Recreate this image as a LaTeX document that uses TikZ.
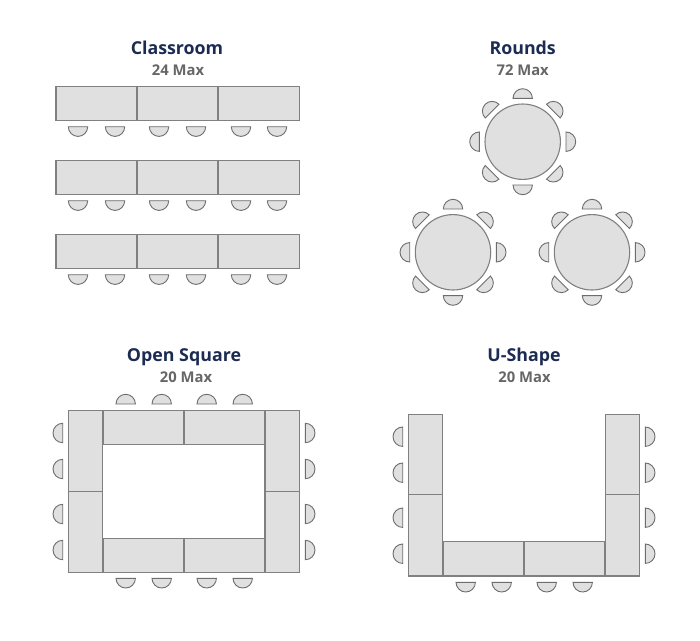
\documentclass[tikz,border=0pt]{standalone}
\usepackage{fontspec}
\setmainfont{Open Sans}
\definecolor{titleblue}{HTML}{1C2B52}
\definecolor{maxgray}{HTML}{666666}
\definecolor{tablefill}{HTML}{E0E0E0}
\definecolor{tableline}{HTML}{808080}
\tikzset{
  roomtitle/.style={anchor=base, font=\fontsize{17.8}{20}\selectfont\bfseries, text=titleblue},
  roommax/.style={anchor=base, font=\fontsize{14.8}{16}\selectfont\bfseries, text=maxgray},
  tablebox/.style={draw=tableline, fill=tablefill, line width=1.1pt},
  chairseat/.style={draw=tableline!85!black, fill=tablefill, line width=0.9pt},
}
% chair: flat side centred at (x,y), bulging towards the given angle
\newcommand{\chair}[3]{\draw[chairseat, shift={(#1,#2)}, rotate=#3] (0,-9.7pt) arc[start angle=-90, end angle=90, radius=9.7pt] -- cycle;}
% round table with eight chairs
\newcommand{\roundtable}[2]{
  \draw[tablebox] (#1,#2) circle[radius=37.7pt];
  \foreach \a in {0,45,...,315} {
    \draw[chairseat, shift={(#1,#2)}, rotate=\a] (43.3pt,-9.7pt) arc[start angle=-90, end angle=90, radius=9.7pt] -- cycle;
  }
}
\begin{document}
\begin{tikzpicture}[x=1pt, y=-1pt]
  \useasboundingbox (0,0) rectangle (700,640);

  % Classroom
  \node[roomtitle] (classroom) at (177,54.6) {Classroom};
  \node[roommax] (classroommax) at (178,75.7) {24 Max};
  \foreach \r in {0,74,148} {
    \foreach \x in {56,137,218} {
      \draw[tablebox] (\x,86.4+\r) rectangle (\x+81.3,120.4+\r);
    }
    \foreach \x in {78,115,159,196,241,277} {
      \chair{\x}{126.7+\r}{-90}
    }
  }

  % Rounds
  \node[roomtitle] (rounds) at (522.7,54.6) {Rounds};
  \node[roommax] (roundsmax) at (522.7,75.7) {72 Max};
  \roundtable{522.7}{141.7}
  \roundtable{453}{252.3}
  \roundtable{592}{252.3}

  % Open Square
  \node[roomtitle] (opensquare) at (184,361) {Open Square};
  \node[roommax] (opensquaremax) at (186,382) {20 Max};
  \foreach \x in {103,184} {
    \draw[tablebox] (\x,410.4) rectangle (\x+81,444.7);
    \draw[tablebox] (\x,538.4) rectangle (\x+81,572.5);
  }
  \foreach \x in {68.3,265} {
    \draw[tablebox] (\x,410.4) rectangle (\x+34.5,491.5);
    \draw[tablebox] (\x,491.5) rectangle (\x+34.5,572.5);
  }
  \foreach \x in {125.7,161.7,206.7,242.7} {
    \chair{\x}{404}{90}
    \chair{\x}{578.3}{-90}
  }
  \foreach \y in {433,469,514,550} {
    \chair{62.7}{\y}{180}
    \chair{305.3}{\y}{0}
  }

  % U-Shape
  \node[roomtitle] (ushape) at (524,361) {U-Shape};
  \node[roommax] (ushapemax) at (524.5,382) {20 Max};
  \foreach \x in {443,524} {
    \draw[tablebox] (\x,541.7) rectangle (\x+81,576);
  }
  \foreach \x in {408.3,605.3} {
    \draw[tablebox] (\x,414.4) rectangle (\x+34.5,494.8);
    \draw[tablebox] (\x,494.8) rectangle (\x+34.5,576);
  }
  \foreach \x in {465.7,501.7,546.7,582.7} {
    \chair{\x}{582.3}{-90}
  }
  \foreach \y in {436.7,472.7,517.7,553.7} {
    \chair{402.7}{\y}{180}
    \chair{645.3}{\y}{0}
  }
\end{tikzpicture}
\end{document}
